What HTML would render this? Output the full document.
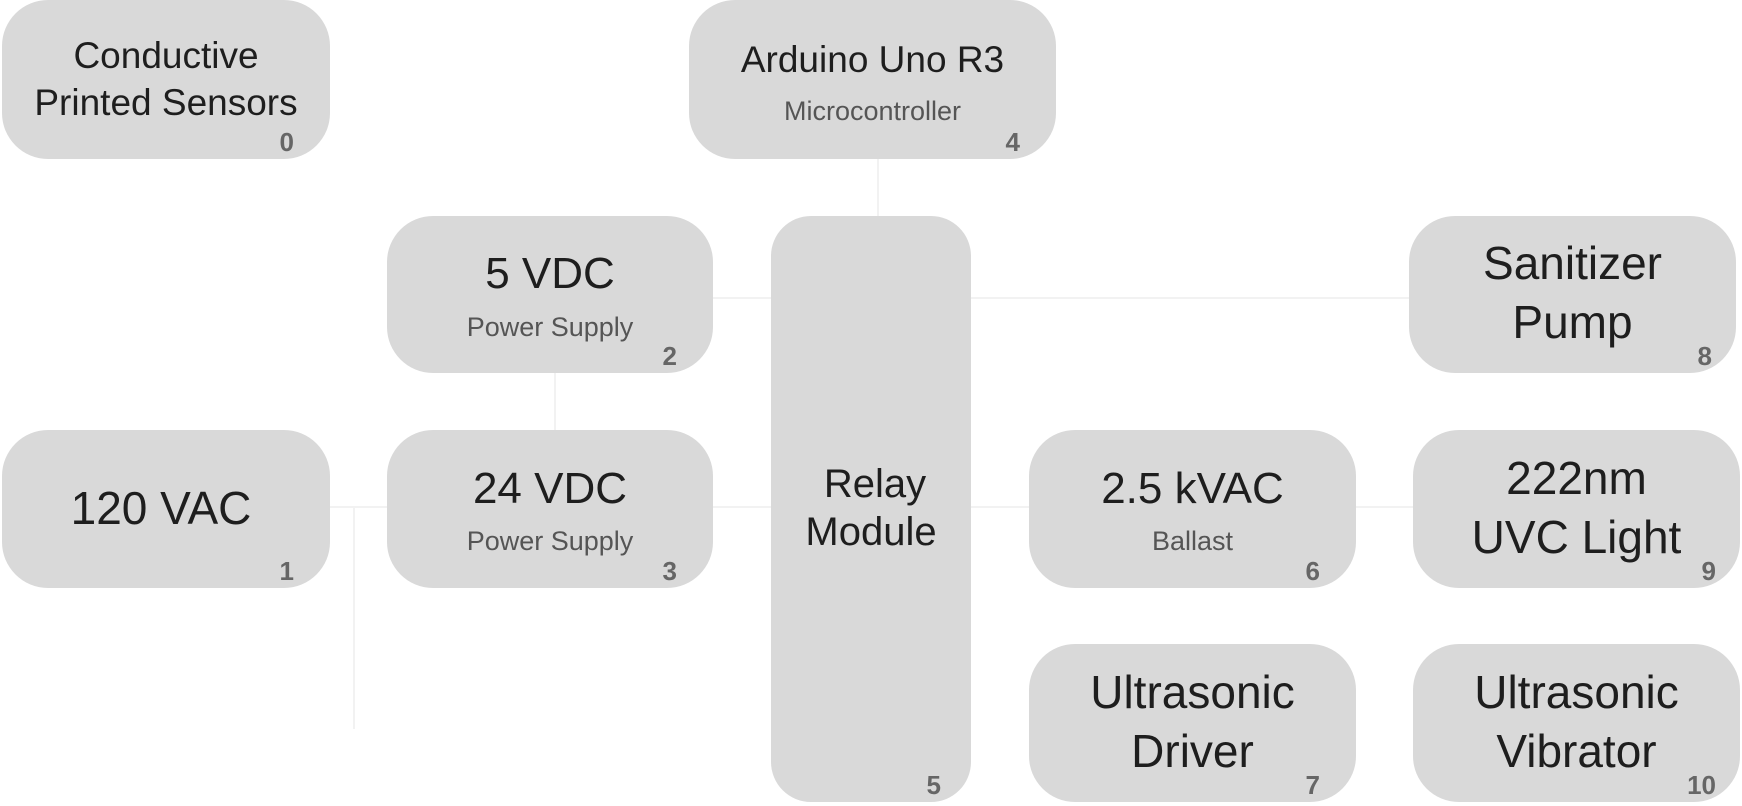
<!DOCTYPE html>
<html><head><meta charset="utf-8"><style>
body{margin:0;width:1742px;height:806px;background:#fff;position:relative;overflow:hidden;font-family:"Liberation Sans",sans-serif;}
.b{position:absolute;background:#d9d9d9;border-radius:46px;}
.t{position:absolute;left:0;right:0;height:60px;line-height:60px;text-align:center;color:#1e1e1e;white-space:nowrap;}
.s{color:#555;font-size:27px;}
.n{position:absolute;right:36px;bottom:2px;font-size:26px;font-weight:bold;color:#666;line-height:30px;}
.l{position:absolute;background:#f2f2f2;}
</style></head><body>
<!-- connectors -->
<div class="l" style="left:877px;top:159px;width:2px;height:57px"></div>
<div class="l" style="left:554px;top:373px;width:2px;height:57px"></div>
<div class="l" style="left:330px;top:506px;width:57px;height:2px"></div>
<div class="l" style="left:353px;top:506px;width:2px;height:223px"></div>
<div class="l" style="left:713px;top:506px;width:58px;height:2px"></div>
<div class="l" style="left:971px;top:506px;width:58px;height:2px"></div>
<div class="l" style="left:1356px;top:506px;width:57px;height:2px"></div>
<div class="l" style="left:971px;top:297px;width:438px;height:2px"></div>
<div class="l" style="left:713px;top:297px;width:58px;height:2px"></div>

<div class="b" style="left:2px;top:0;width:328px;height:159px">
<div class="t" style="top:26px;font-size:37px">Conductive</div>
<div class="t" style="top:73px;font-size:37px">Printed Sensors</div>
<div class="n">0</div></div>

<div class="b" style="left:689px;top:0;width:367px;height:159px">
<div class="t" style="top:30px;font-size:37px">Arduino Uno R3</div>
<div class="t s" style="top:81px">Microcontroller</div>
<div class="n">4</div></div>

<div class="b" style="left:387px;top:216px;width:326px;height:157px">
<div class="t" style="top:28px;font-size:44px">5 VDC</div>
<div class="t s" style="top:81px">Power Supply</div>
<div class="n">2</div></div>

<div class="b" style="left:387px;top:430px;width:326px;height:158px">
<div class="t" style="top:29px;font-size:44px">24 VDC</div>
<div class="t s" style="top:81px">Power Supply</div>
<div class="n">3</div></div>

<div class="b" style="left:2px;top:430px;width:328px;height:158px">
<div class="t" style="top:48px;font-size:46px;left:-10px">120 VAC</div>
<div class="n">1</div></div>

<div class="b" style="left:771px;top:216px;width:200px;height:586px;border-radius:40px">
<div class="t" style="top:238px;font-size:40px;left:8px">Relay</div>
<div class="t" style="top:286px;font-size:40px">Module</div>
<div class="n" style="right:30px">5</div></div>

<div class="b" style="left:1029px;top:430px;width:327px;height:158px">
<div class="t" style="top:29px;font-size:44px">2.5 kVAC</div>
<div class="t s" style="top:81px">Ballast</div>
<div class="n">6</div></div>

<div class="b" style="left:1029px;top:644px;width:327px;height:158px">
<div class="t" style="top:18px;font-size:46px">Ultrasonic</div>
<div class="t" style="top:77px;font-size:46px">Driver</div>
<div class="n">7</div></div>

<div class="b" style="left:1409px;top:216px;width:327px;height:157px">
<div class="t" style="top:17px;font-size:46px">Sanitizer</div>
<div class="t" style="top:76px;font-size:46px">Pump</div>
<div class="n" style="right:24px">8</div></div>

<div class="b" style="left:1413px;top:430px;width:327px;height:158px">
<div class="t" style="top:18px;font-size:46px">222nm</div>
<div class="t" style="top:77px;font-size:46px">UVC Light</div>
<div class="n" style="right:24px">9</div></div>

<div class="b" style="left:1413px;top:644px;width:327px;height:158px">
<div class="t" style="top:18px;font-size:46px">Ultrasonic</div>
<div class="t" style="top:77px;font-size:46px">Vibrator</div>
<div class="n" style="right:24px">10</div></div>
</body></html>
